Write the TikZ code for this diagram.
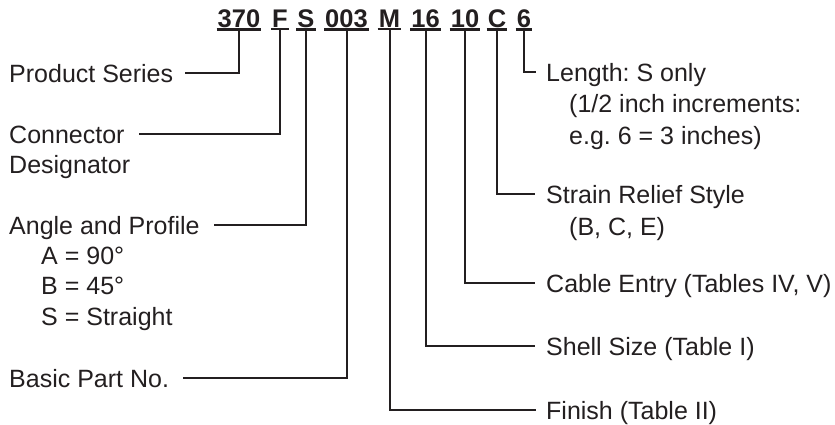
\documentclass[tikz,border=0pt]{standalone}
\usepackage{fontspec}
\setmainfont{Liberation Sans}
\definecolor{ink}{HTML}{231F20}
\begin{document}
\frenchspacing
\begin{tikzpicture}[x=1pt,y=-1pt,
  hd/.style={font=\fontsize{25.5}{25.5}\selectfont\bfseries, text=ink, inner xsep=1pt, inner ysep=2pt, anchor=base},
  lbl/.style={font=\fontsize{25}{30}\selectfont\frenchspacing, text=ink, inner sep=0pt, text height=18pt, text depth=0pt},
  ln/.style={draw=ink, line width=2pt},
  ul/.style={draw=ink, line width=2.4pt}]
\useasboundingbox (0,0) rectangle (835,424);
% header code
\node[hd] (h370) at (239,27) {370};
\node[hd] (hF) at (280,27) {F};
\node[hd] (hS) at (306,27) {S};
\node[hd] (h003) at (346.5,27) {003};
\node[hd] (hM) at (389.5,27) {M};
\node[hd] (h16) at (425.5,27) {16};
\node[hd] (h10) at (465,27) {10};
\node[hd] (hC) at (497,27) {C};
\node[hd] (h6) at (524,27) {6};
\foreach \n in {h370,hF,hS,h003,hM,h16,h10,hC,h6}
  \draw[ul] (\n.south west) -- (\n.south east);
% left labels
\node[lbl, anchor=west] (ps) at (9,73) {Product Series};
\node[lbl, anchor=west] (cd) at (9,134) {Connector};
\node[lbl, anchor=west] (cd2) at (9,164) {Designator};
\node[lbl, anchor=west] (ap) at (9,225) {Angle and Profile};
\node[lbl, anchor=west] (apA) at (41,255) {A = 90°};
\node[lbl, anchor=west] (apB) at (41,285) {B = 45°};
\node[lbl, anchor=west] (apS) at (41,316) {S = Straight};
\node[lbl, anchor=west] (bp) at (9,378) {Basic Part No.};
% right labels
\node[lbl, anchor=west] (len) at (546,72) {Length: S only};
\node[lbl, anchor=west] (len2) at (569,103) {(1/2 inch increments:};
\node[lbl, anchor=west] (len3) at (569,135) {e.g. 6 = 3 inches)};
\node[lbl, anchor=west] (sr) at (546,194) {Strain Relief Style};
\node[lbl, anchor=west] (sr2) at (569,226) {(B, C, E)};
\node[lbl, anchor=west] (ce) at (546,283) {Cable Entry (Tables IV, V)};
\node[lbl, anchor=west] (ss) at (546,346) {Shell Size (Table I)};
\node[lbl, anchor=west] (fin) at (546,410) {Finish (Table II)};
% connectors
\draw[ln] (h370.south) |- ([xshift=12pt]ps.east);
\draw[ln] (hF.south) |- ([xshift=14pt]cd.east);
\draw[ln] (hS.south) |- ([xshift=14pt]ap.east);
\draw[ln] (h003.south) |- ([xshift=14pt]bp.east);
\draw[ln] (hM.south) |- ([xshift=-10pt]fin.west);
\draw[ln] (h16.south) |- ([xshift=-11pt]ss.west);
\draw[ln] (h10.south) |- ([xshift=-11pt]ce.west);
\draw[ln] (hC.south) |- ([xshift=-11pt]sr.west);
\draw[ln] (h6.south) |- ([xshift=-10pt]len.west);
\end{tikzpicture}
\end{document}
